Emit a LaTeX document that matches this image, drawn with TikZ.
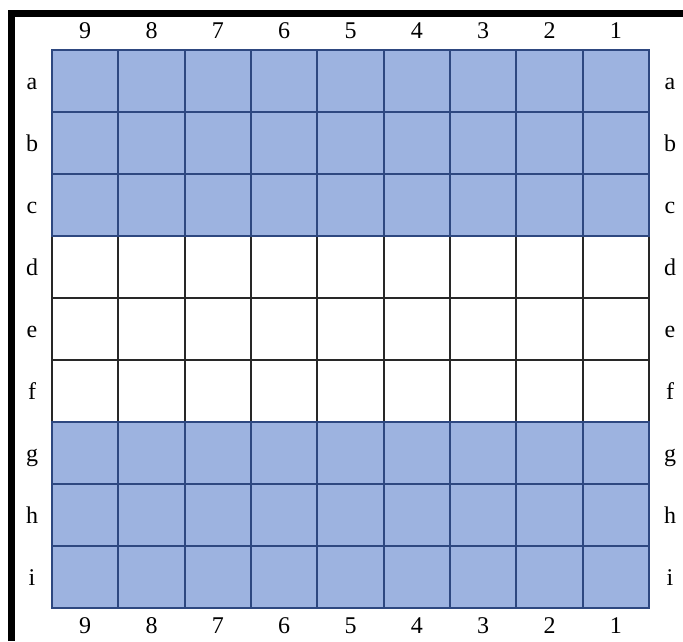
\documentclass[tikz,border=0pt]{standalone}
\usepackage{fontspec}
\setmainfont{Liberation Serif}
\usetikzlibrary{positioning}
\definecolor{boardblue}{RGB}{157, 179, 224}
\definecolor{boardline}{RGB}{46, 72, 128}
\definecolor{boardgrid}{RGB}{40, 40, 40}

\begin{document}
\begin{tikzpicture}[
  x=1pt, y=-1pt,
  bluecell/.style={fill=boardblue, draw=boardline, line width=2pt},
  whitecell/.style={fill=white, draw=boardgrid, line width=2pt},
  lbl/.style={font=\fontsize{24}{27}\selectfont, inner sep=0pt, anchor=base},
  frame/.style={line width=6.5pt, black},
]
  \useasboundingbox (0,0) rectangle (683,641);
  % Frame
  \coordinate (fbot) at (11.7,641);
  \coordinate (fcorner) at (11.7,13.6);
  \coordinate (fright) at (683,13.6);
  \draw[frame] (fbot) -- (fcorner) -- (fright);

  % White middle rows
  \foreach \r in {3,4,5}
    \foreach \c in {0,...,8}
      \draw[whitecell] (52+66.33*\c, 50+62*\r) rectangle ++(66.33,62);
  % Blue rows
  \foreach \r in {0,1,2,6,7,8}
    \foreach \c in {0,...,8}
      \draw[bluecell] (52+66.33*\c, 50+62*\r) rectangle ++(66.33,62);

  % Column numbers
  \foreach \n [count=\c from 0] in {9,...,1} {
    \node[lbl] (top\n) at (85.2+66.33*\c, 38) {\n};
    \node[lbl] (bot\n) at (85.2+66.33*\c, 633) {\n};
  }
  % Row letters
  \foreach \l [count=\r from 0] in {a,...,i} {
    \node[lbl] (left\l) at (32, 89+62*\r) {\l};
    \node[lbl] (right\l) at (670, 89+62*\r) {\l};
  }
\end{tikzpicture}
\end{document}
